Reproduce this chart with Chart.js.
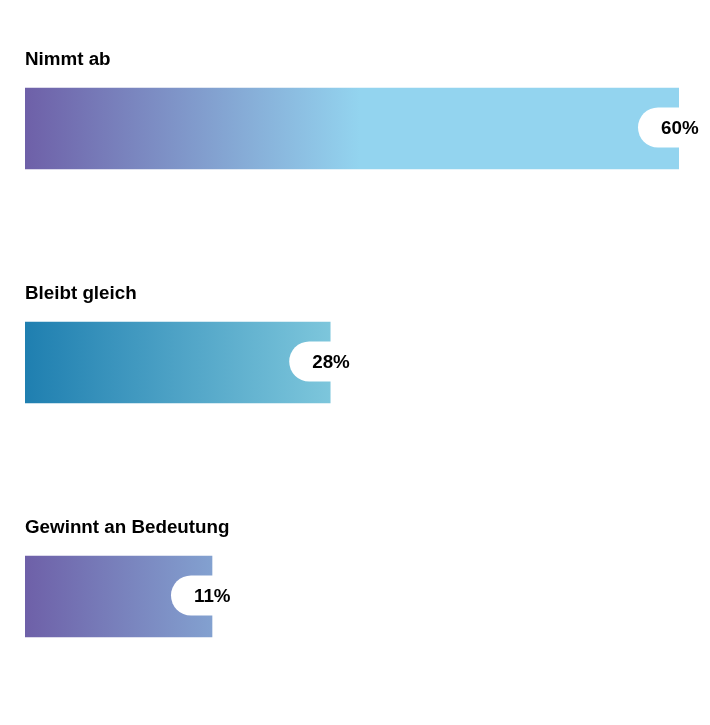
<!DOCTYPE html>
<html>
<head>
<meta charset="utf-8">
<script src="https://cdn.jsdelivr.net/npm/chart.js@4"></script>
<style>
  html, body { margin: 0; padding: 0; background: #fff; }
  #wrap { width: 710px; height: 725px; }
</style>
</head>
<body>
<div id="wrap"><canvas id="myChart"></canvas></div>
<script>
// categories and values
var categories = ['Nimmt ab', 'Bleibt gleich', 'Gewinnt an Bedeutung'];
var values = [60, 28, 11];
var valueLabels = ['60%', '28%', '11%'];

// gradient colours per bar (start, end)
var gradStart = ['#6e60a8', '#1f7fb0', '#6e60a8'];
var gradEnd = ['#93d4ef', '#86cde0', '#93d4ef'];

var FONT = 'bold 18.8px "Liberation Sans", Arial, sans-serif';

function barColor(context) {
  var chart = context.chart;
  var area = chart.chartArea;
  if (!area) return gradStart[context.dataIndex];
  var g = chart.ctx.createLinearGradient(area.left, 0, area.left + 335, 0);
  g.addColorStop(0, gradStart[context.dataIndex]);
  g.addColorStop(1, gradEnd[context.dataIndex]);
  return g;
}

// labels above bars and white pills with value at bar end
var labelPlugin = {
  id: 'labels',
  afterDatasetsDraw: function (chart) {
    var ctx = chart.ctx;
    var meta = chart.getDatasetMeta(0);
    ctx.save();
    ctx.font = FONT;
    meta.data.forEach(function (bar, i) {
      var top = bar.y - bar.height / 2;
      // category label
      ctx.fillStyle = '#000';
      ctx.textAlign = 'left';
      ctx.textBaseline = 'middle';
      ctx.fillText(categories[i], chart.chartArea.left, top - 28);
      // pill
      var px = bar.x - 41, py = bar.y - 21, ph = 40, pw = 90, r = 20;
      ctx.fillStyle = '#fff';
      ctx.beginPath();
      ctx.moveTo(px + r, py);
      ctx.lineTo(px + pw, py);
      ctx.lineTo(px + pw, py + ph);
      ctx.lineTo(px + r, py + ph);
      ctx.arc(px + r, py + r, r, Math.PI / 2, Math.PI * 1.5);
      ctx.closePath();
      ctx.fill();
      // value
      ctx.fillStyle = '#000';
      ctx.fillText(valueLabels[i], bar.x - 18, bar.y);
    });
    ctx.restore();
  }
};

var ctx = document.getElementById('myChart').getContext('2d');
var chart = new Chart(ctx, {
  type: 'bar',
  data: {
    labels: categories,
    datasets: [
      {
        data: values,
        backgroundColor: barColor,
        borderWidth: 0,
        barThickness: 81,
        minBarLength: 187
      }
    ]
  },
  options: {
    indexAxis: 'y',
    responsive: true,
    maintainAspectRatio: false,
    animation: false,
    layout: {
      padding: { left: 25, right: 31, top: 11.5, bottom: 11.5 }
    },
    scales: {
      x: { display: false, min: 0, max: 60 },
      y: { display: false }
    },
    plugins: {
      legend: { display: false },
      tooltip: { enabled: false }
    }
  },
  plugins: [labelPlugin]
});
</script>
</body>
</html>
